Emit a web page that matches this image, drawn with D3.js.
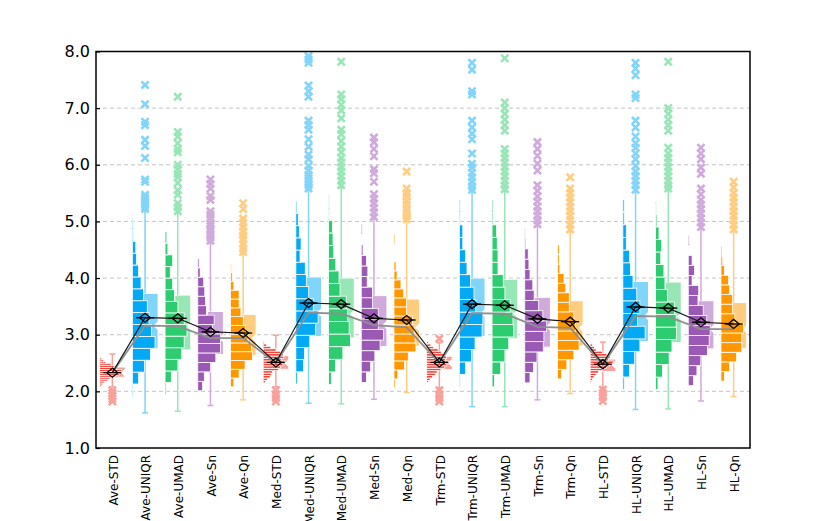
<!DOCTYPE html>
<html lang="en">
<head>
    <meta charset="UTF-8">
    <title>Location / scale estimators</title>
    <script src="https://d3js.org/d3.v7.min.js"></script>
    <style>
        body { margin: 0; background: #fff; }
        text { font-family: "DejaVu Sans", Verdana, sans-serif; }
        .grid line { stroke: #c4c4c4; stroke-dasharray: 4,3; }
    </style>
</head>
<body>
<script>
    var labels = ["Ave-STD","Ave-UNIQR","Ave-UMAD","Ave-Sn","Ave-Qn",
                  "Med-STD","Med-UNIQR","Med-UMAD","Med-Sn","Med-Qn",
                  "Trm-STD","Trm-UNIQR","Trm-UMAD","Trm-Sn","Trm-Qn",
                  "HL-STD","HL-UNIQR","HL-UMAD","HL-Sn","HL-Qn"];

    var means   = [2.33,3.30,3.29,3.05,3.03, 2.51,3.56,3.54,3.29,3.26, 2.51,3.54,3.52,3.28,3.23, 2.48,3.49,3.47,3.22,3.19];
    var medians = [2.33,3.16,3.15,2.94,2.94, 2.50,3.39,3.37,3.17,3.13, 2.50,3.38,3.37,3.14,3.12, 2.47,3.33,3.32,3.10,3.10];
    var q1      = [2.25,2.75,2.73,2.65,2.63, 2.39,2.97,2.94,2.79,2.80, 2.38,2.97,2.93,2.78,2.80, 2.35,2.88,2.86,2.75,2.76];
    var q3      = [2.43,3.73,3.70,3.41,3.36, 2.63,4.02,4.00,3.69,3.63, 2.62,4.00,3.98,3.66,3.60, 2.57,3.94,3.93,3.60,3.57];
    var whiskLo = [2.08,1.62,1.65,1.75,1.85, 2.08,1.79,1.78,1.86,1.98, 2.06,1.73,1.73,1.85,1.96, 2.07,1.68,1.69,1.83,1.91];
    var whiskHi = [2.66,5.18,5.15,4.62,4.42, 2.99,5.55,5.60,5.05,5.00, 2.86,5.53,5.54,4.92,4.82, 2.87,5.52,5.55,4.87,4.82];

    var outliers = [
        [1.82,1.87,1.92,1.97,2.02],
        [7.41,7.07,6.76,6.70,6.44,6.33,6.12,5.74,5.70,5.47,5.42,5.38,5.34,5.30,5.26,5.22],
        [7.20,6.58,6.50,6.38,6.28,6.22,6.00,5.92,5.84,5.78,5.68,5.55,5.47,5.32,5.25,5.18],
        [5.74,5.66,5.58,5.45,5.38,5.18,5.12,5.05,4.97,4.92,4.85,4.78,4.72,4.66],
        [5.32,5.22,5.05,4.98,4.90,4.82,4.75,4.68,4.60,4.52,4.46],
        [1.82,1.88,1.95,2.02],
        [7.92,7.86,7.80,7.40,7.30,7.20,6.78,6.70,6.62,6.45,6.32,6.18,6.10,5.98,5.90,5.82,5.76,5.70,5.64,5.58],
        [7.82,7.24,7.16,7.06,6.96,6.82,6.62,6.54,6.42,6.32,6.22,6.12,6.04,5.96,5.88,5.80,5.72,5.64],
        [6.48,6.40,6.28,6.15,5.92,5.85,5.70,5.48,5.40,5.32,5.24,5.16,5.08],
        [5.88,5.58,5.50,5.44,5.36,5.30,5.22,5.16,5.10,5.04],
        [2.93,1.82,1.88,1.95,2.02],
        [7.80,7.68,7.30,7.24,6.78,6.66,6.55,6.45,6.20,6.02,5.95,5.86,5.78,5.70,5.62,5.56],
        [7.88,7.10,7.00,6.90,6.80,6.70,6.60,6.28,6.20,6.12,6.04,5.96,5.88,5.80,5.72,5.64,5.57],
        [6.40,6.28,6.16,6.02,5.90,5.64,5.54,5.44,5.35,5.26,5.18,5.10,5.02,4.95],
        [5.78,5.58,5.50,5.42,5.34,5.26,5.18,5.10,5.02,4.94,4.86],
        [1.83,1.90,1.97,2.03],
        [7.80,7.70,7.58,7.24,7.18,6.78,6.66,6.50,6.38,6.30,6.20,6.10,5.98,5.88,5.80,5.72,5.64,5.56],
        [7.82,7.00,6.90,6.80,6.70,6.60,6.30,6.20,6.12,6.04,5.96,5.88,5.80,5.72,5.64,5.58],
        [6.30,6.20,6.10,5.95,5.84,5.58,5.48,5.38,5.30,5.22,5.14,5.06,4.98,4.90],
        [5.70,5.60,5.50,5.42,5.34,5.26,5.18,5.10,5.02,4.94,4.86]
    ];

    // histogram: lower edge of first bin, bin width, counts from bottom to top
    var histLo   = [2.08,1.92,1.95,2.01,2.08, 2.15,2.13,2.12,1.97,2.06, 2.15,2.08,2.08,2.15,2.22, 2.15,2.03,2.03,2.10,2.18];
    var histStep = [0.034,0.21,0.205,0.167,0.155, 0.043,0.215,0.223,0.187,0.159, 0.043,0.22,0.22,0.182,0.169, 0.043,0.224,0.221,0.177,0.17];
    var histCounts = [
        [2,3,5,8,10,12,19,19,21,16,14,11,6,4,2],
        [1,6,11.7,17.3,21.7,18.3,16,14.3,10.7,8.3,6,4,3.3,1,1],
        [1,6,12.3,16,18.3,21,18.3,12.3,9,7.3,5,7.3,2.7,1.7],
        [4.7,6.3,12.3,17.3,21.7,21.7,14,15.7,8.3,7.3,6.7,5.7,2.3,1.3],
        [3.3,8.3,14,21,20,16.7,14.3,12.3,10,8.3,8.3,3.3,1.7,1],
        [2.3,4,6.7,8,9,14.7,16.7,19,20.7,17.3,19.7,19,16.7,12.3,7.3,3.3,1.3],
        [1.7,7.3,8.3,13.3,19,21.3,16.7,12.3,10,9,4,5,3.3,2.3,1],
        [2.7,6.7,13.7,21,19.7,18.3,17,11,10,7,5,4.3,3.7,1,1],
        [0.7,5,9,13,18,21.3,16.3,16.3,10.7,10.7,5.7,6.3,5,1.7,0,1],
        [1.3,3.7,10,13.7,21,20.3,19.3,17.7,12,12,9.3,6.7,3,2,0,0,1],
        [1.7,3.3,5.7,8.3,10,13.7,17.3,19.3,21,18,19,16.3,14,11,6.7,4,1.7],
        [1,6,11.7,15,21.7,22.5,15.7,14,10.7,7.3,6,3.3,3.3,1,1],
        [2.3,8.3,12.3,16,20.7,20,17.3,12.3,10.7,5.7,5.7,5,4.3,1,1],
        [5,8.3,11.7,17.7,18.3,21,17.3,13.3,9,7.7,5,4,3.3,1,0.7],
        [4,9,15.7,20.7,20.7,17.3,15.7,11.3,11.3,8,6.3,2.3,1.7,1.7],
        [1,2.3,3.7,5.7,8,11.7,15.7,19,22,17.3,19,16,12,5.7,4,2.3,0.7],
        [1.3,6.3,11.3,16.3,21.3,14,16.3,13.3,9.7,7.3,6.3,3.3,3.3,1.3,1.3],
        [2.3,6.7,13,15.7,20,19.7,18,11.3,9,8,5,5.7,3.3,1.3,0.7],
        [5,8.3,12,18.3,20,21,17.7,14.3,9.3,10,3.7,6,3.7,0,1],
        [3.3,8.3,15,20,20,21.7,13.3,11,11,8.3,7.3,3.3,1.7,1]
    ];

    var yTicks = [1,2,3,4,5,6,7,8];

    // one colour pair per scale estimator (STD, UNIQR, UMAD, Sn, Qn)
    var darkColors  = ["#f2433a","#03a9f4","#2ecc71","#9b59b6","#ff9800"];
    var lightColors = ["#f8a19b","#81d4fa","#98e6b6","#d0aadb","#ffcc80"];

    var width = 832, height = 521;
    var plotL = 96, plotR = 750, plotT = 51.5, plotB = 448;

    var svg = d3.select("body").append("svg")
        .attr("width", width)
        .attr("height", height);

    var x = d3.scaleBand().domain(labels).range([plotL, plotR]);
    var y = d3.scaleLinear().domain([1, 8]).range([plotB, plotT]);
    var len = d3.scaleLinear().domain([0, 22]).range([0, 23]);

    function cx(i){ return x(labels[i]) + x.bandwidth() / 2; }

    // grid
    svg.append("g").attr("class", "grid")
        .selectAll("line")
        .data(yTicks.filter(function(d){ return d > 1 && d < 8; }))
        .enter().append("line")
        .attr("x1", plotL).attr("x2", plotR)
        .attr("y1", function(d){ return y(d); })
        .attr("y2", function(d){ return y(d); });

    var groups = svg.append("g").selectAll("g")
        .data(labels)
        .enter().append("g");

    // notched boxes
    groups.append("path")
        .attr("fill", function(d, i){ return lightColors[i % 5]; })
        .attr("stroke", "#fff")
        .attr("stroke-width", 1)
        .attr("d", function(d, i){
            var c = cx(i), l = c - 3, r = c + 13;
            var ym = y(medians[i]), n = 4;
            var t = y(q3[i]), b = y(q1[i]);
            return "M" + l + "," + t + "L" + r + "," + t +
                   "L" + r + "," + (ym - n) + "L" + (r - 4) + "," + ym +
                   "L" + r + "," + (ym + n) + "L" + r + "," + b +
                   "L" + l + "," + b + "L" + l + "," + (ym + n) +
                   "L" + (l + 4) + "," + ym + "L" + l + "," + (ym - n) + "Z";
        });

    // whiskers
    groups.each(function(d, i){
        var g = d3.select(this), c = cx(i), col = lightColors[i % 5];
        var segs = [[whiskLo[i], q1[i]], [q3[i], whiskHi[i]]];
        g.selectAll("line.wh").data(segs).enter().append("line")
            .attr("class", "wh")
            .attr("x1", c).attr("x2", c)
            .attr("y1", function(s){ return y(s[0]); })
            .attr("y2", function(s){ return y(s[1]); })
            .attr("stroke", col).attr("stroke-width", 1.5);
        g.selectAll("line.cap").data([whiskLo[i], whiskHi[i]]).enter().append("line")
            .attr("class", "cap")
            .attr("x1", c - 3).attr("x2", c + 3)
            .attr("y1", function(v){ return y(v); })
            .attr("y2", function(v){ return y(v); })
            .attr("stroke", col).attr("stroke-width", 1.5);
    });

    // outliers
    groups.each(function(d, i){
        var c = cx(i);
        d3.select(this).selectAll("path.out")
            .data(outliers[i])
            .enter().append("path")
            .attr("class", "out")
            .attr("transform", function(v){ return "translate(" + c + "," + y(v) + ")"; })
            .attr("d", "M-3.6,-3.6L3.6,3.6M-3.6,3.6L3.6,-3.6")
            .attr("stroke", lightColors[i % 5])
            .attr("stroke-width", 2.6)
            .attr("fill", "none");
    });

    // histograms
    groups.each(function(d, i){
        var c = cx(i), lo = histLo[i], st = histStep[i];
        d3.select(this).selectAll("rect.bin")
            .data(histCounts[i])
            .enter().append("rect")
            .attr("class", "bin")
            .attr("x", c - 12.7)
            .attr("y", function(n, k){ return y(lo + (k + 1) * st); })
            .attr("height", function(n, k){ return y(lo + k * st) - y(lo + (k + 1) * st); })
            .attr("width", function(n){ return len(n); })
            .attr("fill", darkColors[i % 5])
            .attr("stroke", "#fff")
            .attr("stroke-width", function(n){ return n > 0 ? 0.8 : 0; });
    });

    // median and mean lines
    var line = d3.line()
        .x(function(v, i){ return cx(i); })
        .y(function(v){ return y(v); });

    svg.append("path")
        .datum(medians)
        .attr("d", line)
        .attr("fill", "none")
        .attr("stroke", "#8f8f8f")
        .attr("stroke-width", 1.8);

    svg.append("path")
        .datum(means)
        .attr("d", line)
        .attr("fill", "none")
        .attr("stroke", "#1a1a1a")
        .attr("stroke-width", 1.2);

    var marks = svg.append("g").selectAll("g")
        .data(means)
        .enter().append("g")
        .attr("transform", function(v, i){ return "translate(" + cx(i) + "," + y(v) + ")"; });

    marks.append("line")
        .attr("x1", -9).attr("x2", 9)
        .attr("stroke", "#000").attr("stroke-width", 1.3);

    marks.append("path")
        .attr("d", "M-5.5,0L0,-4.5L5.5,0L0,4.5Z")
        .attr("fill", "none")
        .attr("stroke", "#000")
        .attr("stroke-width", 1.3);

    // frame
    svg.append("rect")
        .attr("x", plotL).attr("y", plotT)
        .attr("width", plotR - plotL).attr("height", plotB - plotT)
        .attr("fill", "none")
        .attr("stroke", "#000")
        .attr("stroke-width", 1.5);

    // y axis
    var yAxis = svg.append("g")
        .attr("transform", "translate(" + plotL + ",0)")
        .call(d3.axisLeft(y).tickValues(yTicks).tickFormat(d3.format(".1f"))
              .tickSize(-4).tickPadding(6));
    yAxis.select(".domain").remove();
    yAxis.selectAll(".tick line").attr("stroke", "#000").attr("stroke-width", 1.2);
    yAxis.selectAll("text")
        .attr("fill", "#000")
        .style("font-size", "16px")
        .style("font-family", "'DejaVu Sans', Verdana, sans-serif");

    // x labels (the longest ones run off the bottom edge, as in the original)
    svg.append("g").selectAll("text")
        .data(labels)
        .enter().append("text")
        .attr("transform", function(d, i){ return "translate(" + (cx(i) + 1) + ",455) rotate(-90)"; })
        .attr("text-anchor", "end")
        .attr("dy", "0.35em")
        .style("font-size", "12px")
        .attr("fill", "#000")
        .text(function(d){ return d; });
</script>
</body>
</html>
